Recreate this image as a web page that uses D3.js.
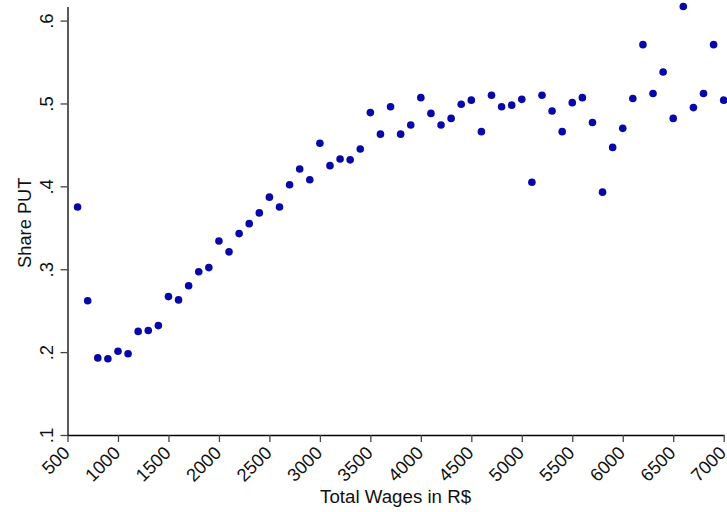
<!DOCTYPE html>
<html>
<head>
<meta charset="utf-8">
<script src="https://cdn.jsdelivr.net/npm/d3@7"></script>
<style>
    body { margin: 0; background: #fff; }
    svg { display: block; font-family: "Liberation Sans", Arial, sans-serif; }
</style>
</head>
<body>
<div id="chart"></div>
<script>
// wage bins (R$) and share of PUT in each bin
const wages = [
    600, 700, 800, 900, 1000, 1100, 1200, 1300, 1400, 1500,
    1600, 1700, 1800, 1900, 2000, 2100, 2200, 2300, 2400, 2500,
    2600, 2700, 2800, 2900, 3000, 3100, 3200, 3300, 3400, 3500,
    3600, 3700, 3800, 3900, 4000, 4100, 4200, 4300, 4400, 4500,
    4600, 4700, 4800, 4900, 5000, 5100, 5200, 5300, 5400, 5500,
    5600, 5700, 5800, 5900, 6000, 6100, 6200, 6300, 6400, 6500,
    6600, 6700, 6800, 6900, 7000
];
const sharePUT = [
    0.375, 0.262, 0.193, 0.192, 0.201, 0.198, 0.225, 0.226, 0.232, 0.267,
    0.263, 0.280, 0.297, 0.302, 0.334, 0.321, 0.343, 0.355, 0.368, 0.387,
    0.375, 0.402, 0.421, 0.408, 0.452, 0.425, 0.433, 0.432, 0.445, 0.489,
    0.463, 0.496, 0.463, 0.474, 0.507, 0.488, 0.474, 0.482, 0.499, 0.504,
    0.466, 0.510, 0.496, 0.498, 0.505, 0.405, 0.510, 0.491, 0.466, 0.501,
    0.507, 0.477, 0.393, 0.447, 0.470, 0.506, 0.571, 0.512, 0.538, 0.482,
    0.617, 0.495, 0.512, 0.571, 0.504
];
const xTicks = [500, 1000, 1500, 2000, 2500, 3000, 3500, 4000, 4500, 5000, 5500, 6000, 6500, 7000];
const yTicks = [0.1, 0.2, 0.3, 0.4, 0.5, 0.6];

const width = 727;
const height = 512;
const margin = { top: 6.5, right: 3.3, bottom: 77, left: 67.5 };

const svg = d3.select("#chart")
    .append("svg")
    .attr("width", width)
    .attr("height", height);

const x = d3.scaleLinear()
    .domain([500, 7000])
    .range([margin.left, width - margin.right]);

const y = d3.scaleLinear()
    .domain([0.1, d3.max(sharePUT)])
    .range([height - margin.bottom, margin.top]);

const data = wages.map((w, i) => ({ wage: w, share: sharePUT[i] }));

// x axis
const xAxis = svg.append("g")
    .attr("transform", `translate(0, ${height - margin.bottom})`)
    .call(d3.axisBottom(x).tickValues(xTicks).tickSize(7).tickSizeOuter(0).tickFormat(d3.format("d")));

xAxis.select(".domain").attr("stroke", "#000").attr("stroke-width", 1.3);
xAxis.selectAll(".tick line").attr("stroke", "#444").attr("stroke-width", 1.3);
xAxis.selectAll(".tick text")
    .attr("font-size", 18.3)
    .attr("fill", "#111")
    .attr("text-anchor", "end")
    .attr("dy", null)
    .attr("y", null)
    .attr("transform", "translate(3, 19) rotate(-45)");

// y axis
const yAxis = svg.append("g")
    .attr("transform", `translate(${margin.left}, 0)`)
    .call(d3.axisLeft(y).tickValues(yTicks).tickSize(7).tickSizeOuter(0)
        .tickFormat(d => d3.format(".1f")(d).replace(/^0/, "")));

yAxis.select(".domain").attr("stroke", "#000").attr("stroke-width", 1.3);
yAxis.selectAll(".tick line").attr("stroke", "#444").attr("stroke-width", 1.3);
yAxis.selectAll(".tick text")
    .attr("font-size", 18.5)
    .attr("fill", "#111")
    .attr("text-anchor", "middle")
    .attr("x", null)
    .attr("dy", null)
    .attr("transform", "translate(-15, 0) rotate(-90)");

// points
svg.append("g")
    .selectAll("circle")
    .data(data)
    .join("circle")
    .attr("cx", d => x(d.wage))
    .attr("cy", d => y(d.share))
    .attr("r", 3.8)
    .attr("fill", "#0808a8");

// axis titles
svg.append("text")
    .attr("x", (margin.left + width - margin.right) / 2)
    .attr("y", 503)
    .attr("text-anchor", "middle")
    .attr("font-size", 18.7)
    .attr("fill", "#111")
    .text("Total Wages in R$");

svg.append("text")
    .attr("transform", `translate(31, ${(margin.top + height - margin.bottom) / 2 + 2}) rotate(-90)`)
    .attr("text-anchor", "middle")
    .attr("font-size", 18.3)
    .attr("fill", "#111")
    .text("Share PUT");
</script>
</body>
</html>
